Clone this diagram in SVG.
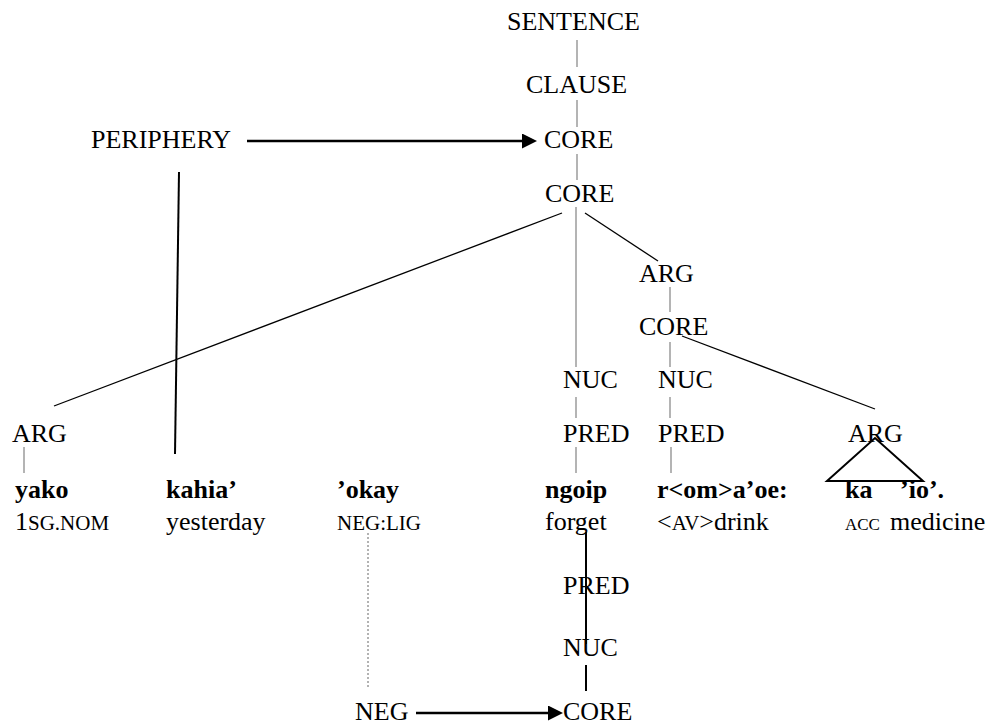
<svg xmlns="http://www.w3.org/2000/svg" width="1003" height="728" viewBox="0 0 1003 728">
  <style>
    text { font-family: "Liberation Serif", "Times New Roman", Times, serif; font-size: 26px; fill: #000; }
    .b { font-weight: bold; }
    .sc { font-size: 21px; }
    .sc2 { font-size: 17px; }
    .tree { stroke: #8c8c8c; stroke-width: 1.3; fill: none; }
    .edge { stroke: #000; stroke-width: 1.3; fill: none; }
    .thick { stroke: #000; stroke-width: 2; fill: none; }
    .arrow { stroke: #000; stroke-width: 2.6; fill: none; marker-end: url(#head); }
    .dots { stroke: #666; stroke-width: 1; stroke-dasharray: 2 2; fill: none; }
  </style>
  <defs>
    <marker id="head" markerUnits="userSpaceOnUse" markerWidth="16" markerHeight="16" refX="0" refY="7.5" orient="auto">
      <path d="M0,0 L15,7.5 L0,15 z" fill="#000"/>
    </marker>
  </defs>
  <rect width="1003" height="728" fill="#fff"/>

  <!-- connectors -->
  <g id="connectors">
    <!-- vertical tree branches -->
    <line class="tree" x1="577" y1="40" x2="577" y2="67"/>
    <line class="tree" x1="577" y1="100" x2="577" y2="127"/>
    <line class="tree" x1="577" y1="154" x2="577" y2="180"/>
    <line class="tree" x1="576" y1="207" x2="576" y2="367"/>
    <line class="tree" x1="576" y1="397" x2="576" y2="418"/>
    <line class="tree" x1="576" y1="447" x2="576" y2="473"/>
    <line class="tree" x1="670" y1="287" x2="670" y2="312"/>
    <line class="tree" x1="670" y1="342" x2="670" y2="367"/>
    <line class="tree" x1="670" y1="397" x2="670" y2="418"/>
    <line class="tree" x1="671" y1="447" x2="671" y2="473"/>
    <line class="tree" x1="24" y1="447" x2="24" y2="473"/>
    <!-- diagonal branches -->
    <line class="edge" x1="562" y1="213" x2="54" y2="406"/>
    <line class="edge" x1="585" y1="213" x2="658" y2="261"/>
    <line class="edge" x1="682" y1="336" x2="875" y2="409"/>
    <!-- periphery attachment -->
    <line class="thick" x1="179" y1="172" x2="175" y2="454"/>
    <!-- abbreviated ARG -->
    <path class="thick" d="M827,481 L875,438 L923,481 Z"/>
    <!-- lower projection -->
    <line class="thick" x1="586" y1="532" x2="586" y2="644"/>
    <line class="thick" x1="586" y1="665" x2="586" y2="691"/>
    <line class="dots" x1="368" y1="533" x2="368" y2="688"/>
    <!-- operator arrows -->
    <line class="arrow" x1="247" y1="141" x2="522" y2="141"/>
    <line class="arrow" x1="416" y1="713" x2="548" y2="713"/>
  </g>

  <!-- layered structure nodes -->
  <g id="n-sentence"><text x="507" y="30">SENTENCE</text></g>
  <g id="n-clause"><text x="526" y="93">CLAUSE</text></g>
  <g id="n-core-top"><text x="544" y="148">CORE</text></g>
  <g id="n-periphery"><text x="91" y="148">PERIPHERY</text></g>
  <g id="n-core-main"><text x="545" y="202">CORE</text></g>
  <g id="n-arg-left"><text x="12" y="442">ARG</text></g>
  <g id="n-arg-right"><text x="639" y="282">ARG</text></g>
  <g id="n-core-sub"><text x="639" y="335">CORE</text></g>
  <g id="n-nuc-main"><text x="563" y="388">NUC</text></g>
  <g id="n-nuc-sub"><text x="658" y="388">NUC</text></g>
  <g id="n-pred-main"><text x="563" y="442">PRED</text></g>
  <g id="n-pred-sub"><text x="658" y="442">PRED</text></g>
  <g id="n-arg-obj"><text x="848" y="442">ARG</text></g>

  <!-- words -->
  <g id="w-yako"><text class="b" x="15" y="498">yako</text><text x="15" y="530">1<tspan class="sc">SG.NOM</tspan></text></g>
  <g id="w-kahia"><text class="b" x="166" y="498">kahia’</text><text x="166" y="530">yesterday</text></g>
  <g id="w-okay"><text class="b" x="337" y="498">’okay</text><text class="sc" x="337" y="530">NEG:LIG</text></g>
  <g id="w-ngoip"><text class="b" x="545" y="498">ngoip</text><text x="545" y="530">forget</text></g>
  <g id="w-raoe"><text class="b" x="657" y="498">r&lt;om&gt;a’oe:</text><text x="657" y="530">&lt;<tspan class="sc">AV</tspan>&gt;drink</text></g>
  <g id="w-ka"><text class="b" x="845" y="498">ka</text><text class="sc2" x="845" y="530">ACC</text></g>
  <g id="w-io"><text class="b" x="900" y="498">’io’.</text><text x="890" y="530">medicine</text></g>

  <!-- operator projection -->
  <g id="n-pred-op"><text x="563" y="594">PRED</text></g>
  <g id="n-nuc-op"><text x="563" y="656">NUC</text></g>
  <g id="n-neg"><text x="355" y="720">NEG</text></g>
  <g id="n-core-op"><text x="563" y="720">CORE</text></g>
</svg>
